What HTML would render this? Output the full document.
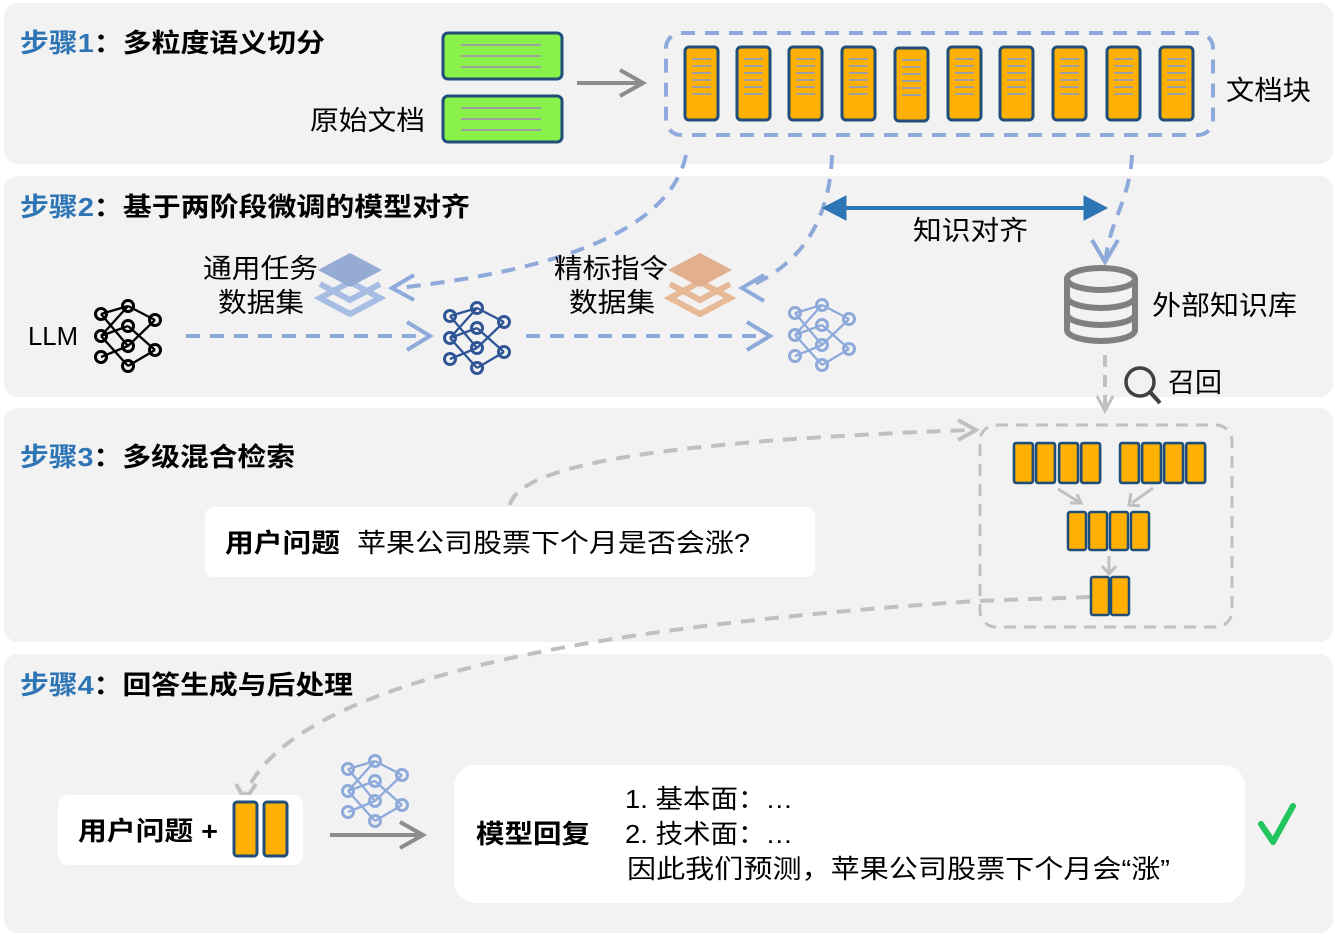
<!DOCTYPE html>
<html><head><meta charset="utf-8"><style>
html,body{margin:0;padding:0;background:#fff;}
svg{display:block;font-family:"Liberation Sans","Noto Sans CJK SC",sans-serif;}
</style></head><body>
<svg width="1335" height="935" viewBox="0 0 1335 935" xmlns="http://www.w3.org/2000/svg">
<defs>
<g id="chunk">
 <rect x="0" y="0" width="33" height="73" rx="4" fill="#ffb000" stroke="#1f4e79" stroke-width="3"/>
 <g stroke="#a0a0a0" stroke-width="2"><line x1="7" x2="26" y1="12" y2="12"/><line x1="7" x2="26" y1="19" y2="19"/><line x1="7" x2="26" y1="26" y2="26"/><line x1="7" x2="26" y1="33" y2="33"/><line x1="7" x2="26" y1="40" y2="40"/><line x1="7" x2="26" y1="47" y2="47"/></g>
</g>
<g id="bar"><rect x="0" y="0" width="18" height="38" rx="2" fill="#ffb000" stroke="#1f4e79" stroke-width="2.5"/></g>
<g id="doc">
 <rect x="0" y="0" width="119" height="46" rx="5" fill="#88f24a" stroke="#1f4e79" stroke-width="3"/>
 <g stroke="#a0a0a0" stroke-width="2"><line x1="18" x2="98" y1="12" y2="12"/><line x1="18" x2="98" y1="23" y2="23"/><line x1="18" x2="98" y1="34" y2="34"/></g>
</g>
<g id="net" fill="none">
 <g stroke-width="2.3">
 <line x1="0" y1="8" x2="27" y2="0"/><line x1="0" y1="8" x2="27" y2="40"/>
 <line x1="0" y1="30" x2="27" y2="20"/><line x1="0" y1="30" x2="27" y2="0"/><line x1="0" y1="30" x2="27" y2="60"/>
 <line x1="0" y1="51" x2="27" y2="40"/>
 <line x1="27" y1="0" x2="54" y2="14"/><line x1="27" y1="20" x2="54" y2="44"/><line x1="27" y1="40" x2="54" y2="14"/><line x1="27" y1="60" x2="54" y2="44"/>
 </g>
 <g stroke-width="3">
 <circle cx="0" cy="8" r="5.5"/><circle cx="0" cy="30" r="5.5"/><circle cx="0" cy="51" r="5.5"/>
 <circle cx="27" cy="0" r="5.5"/><circle cx="27" cy="20" r="5.5"/><circle cx="27" cy="40" r="5.5"/><circle cx="27" cy="60" r="5.5"/>
 <circle cx="54" cy="14" r="5.5"/><circle cx="54" cy="44" r="5.5"/>
 </g>
</g>
<g id="layers">
 <polygon points="0,12 30,28 0,44 -30,28" fill="none" stroke-width="6" stroke-linejoin="miter"/>
 <polyline points="-30,14 0,30 30,14" fill="none" stroke-width="6"/>
 <polygon points="0,-17 32,0 0,17 -32,0" stroke="none"/>
</g>
</defs>

<!-- panels -->
<rect x="4" y="3" width="1329" height="161" rx="14" fill="#f2f2f2"/>
<rect x="4" y="176" width="1329" height="221" rx="14" fill="#f2f2f2"/>
<rect x="4" y="408" width="1329" height="234" rx="14" fill="#f2f2f2"/>
<rect x="4" y="654" width="1329" height="279" rx="14" fill="#f2f2f2"/>

<!-- titles -->
<g font-size="26" font-weight="bold">
<text x="20" y="52" textLength="305" lengthAdjust="spacingAndGlyphs"><tspan fill="#2e75b6">步骤1</tspan>：多粒度语义切分</text>
<text x="20" y="216" textLength="450" lengthAdjust="spacingAndGlyphs"><tspan fill="#2e75b6">步骤2</tspan>：基于两阶段微调的模型对齐</text>
<text x="20" y="466" textLength="275" lengthAdjust="spacingAndGlyphs"><tspan fill="#2e75b6">步骤3</tspan>：多级混合检索</text>
<text x="20" y="694" textLength="333" lengthAdjust="spacingAndGlyphs"><tspan fill="#2e75b6">步骤4</tspan>：回答生成与后处理</text>
</g>

<!-- step1 -->
<use href="#doc" x="443" y="33"/>
<use href="#doc" x="443" y="96"/>
<text x="310" y="130" font-size="27" textLength="115" lengthAdjust="spacingAndGlyphs">原始文档</text>
<g stroke="#8c8c8c" stroke-width="4" fill="none"><line x1="577" y1="83" x2="643" y2="83"/><polyline points="620,70 643,83 620,96"/></g>
<rect x="666" y="33" width="547" height="102" rx="15" fill="none" stroke="#8eaadb" stroke-width="4" stroke-dasharray="14 10"/>
<use href="#chunk" x="685" y="47"/><use href="#chunk" x="737" y="47"/><use href="#chunk" x="789" y="47"/><use href="#chunk" x="842" y="47"/><use href="#chunk" x="895" y="48"/><use href="#chunk" x="948" y="47"/><use href="#chunk" x="1000" y="47"/><use href="#chunk" x="1053" y="47"/><use href="#chunk" x="1107" y="47"/><use href="#chunk" x="1160" y="47"/>
<text x="1226" y="100" font-size="27" textLength="85" lengthAdjust="spacingAndGlyphs">文档块</text>

<!-- step2 connectors -->
<g stroke="#8eaadb" stroke-width="4" fill="none" stroke-dasharray="14 10">
<path d="M686,155 C670,230 560,270 398,288"/>
<path d="M832,155 C830,210 810,260 748,287"/>
<path d="M1132,155 C1130,200 1110,220 1106,258"/>
<line x1="186" y1="336" x2="428" y2="336"/>
<line x1="526" y1="336" x2="770" y2="336"/>
</g>
<g stroke="#8eaadb" stroke-width="4" fill="none">
<polyline points="414,275 392,288 414,300"/>
<polyline points="764,275 742,288 764,301"/>
<polyline points="1092,240 1105,262 1118,240"/>
<polyline points="407,322 430,336 407,350"/>
<polyline points="747,322 770,336 747,350"/>
</g>
<g fill="#2e75b6" stroke="#2e75b6"><line x1="840" y1="208" x2="1090" y2="208" stroke-width="4"/><polygon points="823,208 846,196 846,220"/><polygon points="1107,208 1084,196 1084,220"/></g>
<text x="913" y="240" font-size="27" textLength="115" lengthAdjust="spacingAndGlyphs">知识对齐</text>

<text x="203" y="278" font-size="27" textLength="115" lengthAdjust="spacingAndGlyphs">通用任务</text>
<text x="218" y="312" font-size="27" textLength="86" lengthAdjust="spacingAndGlyphs">数据集</text>
<use href="#layers" x="350" y="270" fill="#95abd4" stroke="#a7bde3"/>
<text x="554" y="278" font-size="27" textLength="114" lengthAdjust="spacingAndGlyphs">精标指令</text>
<text x="569" y="312" font-size="27" textLength="86" lengthAdjust="spacingAndGlyphs">数据集</text>
<use href="#layers" x="700" y="270" fill="#e2b08f" stroke="#e8b996"/>

<text x="28" y="345" font-size="26" textLength="50" lengthAdjust="spacingAndGlyphs">LLM</text>
<use href="#net" x="101" y="306" stroke="#000"/>
<use href="#net" x="450" y="308" stroke="#2f5597"/>
<use href="#net" x="795" y="305" stroke="#8eaadb"/>

<!-- database -->
<g stroke="#808080" stroke-width="6" fill="none">
<ellipse cx="1101" cy="279" rx="34" ry="11"/>
<path d="M1067,279 V330 A34,11 0 0 0 1135,330 V279"/>
<path d="M1067,297 A34,11 0 0 0 1135,297"/>
<path d="M1067,314 A34,11 0 0 0 1135,314"/>
</g>
<text x="1152" y="315" font-size="27" textLength="145" lengthAdjust="spacingAndGlyphs">外部知识库</text>
<line x1="1105" y1="355" x2="1105" y2="410" stroke="#c0c0c0" stroke-width="4" stroke-dasharray="12 8"/>
<polyline points="1097,396 1105,411 1113,396" stroke="#c0c0c0" stroke-width="3" fill="none"/>
<circle cx="1140" cy="382" r="14" stroke="#404040" stroke-width="3.5" fill="none"/>
<line x1="1150" y1="392" x2="1160" y2="403" stroke="#404040" stroke-width="4"/>
<text x="1168" y="392" font-size="27" textLength="54" lengthAdjust="spacingAndGlyphs">召回</text>

<!-- step3 -->
<rect x="980" y="425" width="252" height="202" rx="16" fill="none" stroke="#c0c0c0" stroke-width="3" stroke-dasharray="12 8"/>
<path d="M510,505 C520,460 700,440 970,430" stroke="#c0c0c0" stroke-width="4" fill="none" stroke-dasharray="14 10"/>
<polyline points="958,420 976,430 958,440" stroke="#c0c0c0" stroke-width="4" fill="none"/>
<rect x="205" y="507" width="610" height="70" rx="9" fill="#fff"/>
<text x="225" y="552" font-size="26" font-weight="bold" textLength="115" lengthAdjust="spacingAndGlyphs">用户问题</text>
<text x="357" y="552" font-size="26" textLength="393" lengthAdjust="spacingAndGlyphs">苹果公司股票下个月是否会涨?</text>

<g transform="translate(1014,443) scale(1.05)">
<use href="#bar" x="0" y="0"/><use href="#bar" x="21" y="0"/><use href="#bar" x="43" y="0"/><use href="#bar" x="64" y="0"/>
<use href="#bar" x="101" y="0"/><use href="#bar" x="122" y="0"/><use href="#bar" x="143" y="0"/><use href="#bar" x="164" y="0"/>
</g>
<use href="#bar" x="1068" y="512"/><use href="#bar" x="1089" y="512"/><use href="#bar" x="1110" y="512"/><use href="#bar" x="1131" y="512"/>
<g stroke="#c0c0c0" stroke-width="3" fill="none">
<line x1="1058" y1="489" x2="1079" y2="502"/><polyline points="1070,503 1081,503 1077,494"/>
<line x1="1153" y1="488" x2="1132" y2="503"/><polyline points="1131,493 1129,505 1140,506"/>
<line x1="1109" y1="556" x2="1109" y2="573"/><polyline points="1102,566 1109,574 1116,566"/>
</g>
<path d="M1090,597 L975,601 C700,620 300,660 245,795" stroke="#c0c0c0" stroke-width="4" fill="none" stroke-dasharray="14 10"/>
<polyline points="236,784 245,800 256,784" stroke="#c0c0c0" stroke-width="4" fill="none"/>
<use href="#bar" x="1091" y="577"/><use href="#bar" x="1111" y="577"/>

<!-- step4 -->
<rect x="58" y="795" width="245" height="70" rx="10" fill="#fff"/>
<text x="78" y="840" font-size="26" font-weight="bold" textLength="140" lengthAdjust="spacingAndGlyphs">用户问题 +</text>
<rect x="234" y="802" width="23" height="54" rx="3" fill="#ffb000" stroke="#1f4e79" stroke-width="3"/>
<rect x="264" y="802" width="23" height="54" rx="3" fill="#ffb000" stroke="#1f4e79" stroke-width="3"/>
<use href="#net" x="348" y="761" stroke="#8eaadb"/>
<g stroke="#8c8c8c" stroke-width="4" fill="none"><line x1="330" y1="835" x2="423" y2="835"/><polyline points="400,822 423,835 400,848"/></g>
<rect x="454" y="765" width="791" height="138" rx="22" fill="#fff"/>
<text x="476" y="843" font-size="26" font-weight="bold" textLength="114" lengthAdjust="spacingAndGlyphs">模型回复</text>
<text x="625" y="808" font-size="26" textLength="168" lengthAdjust="spacingAndGlyphs">1. 基本面：…</text>
<text x="625" y="843" font-size="26" textLength="168" lengthAdjust="spacingAndGlyphs">2. 技术面：…</text>
<text x="627" y="878" font-size="26" textLength="543" lengthAdjust="spacingAndGlyphs">因此我们预测，苹果公司股票下个月会“涨”</text>
<path d="M1261,824 L1273,842 L1293,806" stroke="#22c55e" stroke-width="6" fill="none" stroke-linecap="round" stroke-linejoin="round"/>
</svg>
</body></html>
